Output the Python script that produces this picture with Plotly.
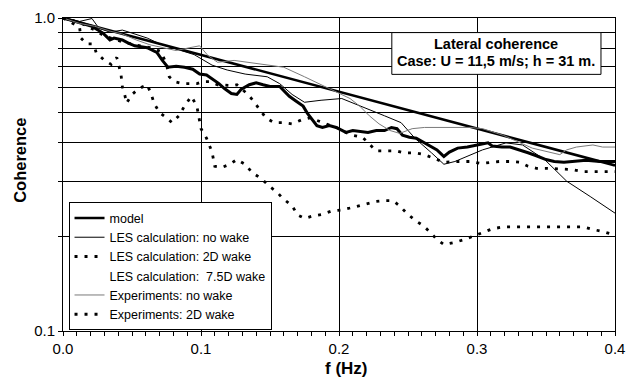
import plotly.graph_objects as go

# ---------------- data ----------------
model_f = [0.0, 0.1, 0.2, 0.3, 0.4]
model_c = [1.0, 0.762, 0.581, 0.443, 0.338]

les_nowake_f = [0.0, 0.012, 0.021, 0.026, 0.034, 0.043, 0.050, 0.061, 0.070, 0.079, 0.090, 0.095,
                0.108, 0.119, 0.132, 0.148, 0.157, 0.166, 0.175, 0.187, 0.202, 0.216, 0.233, 0.245,
                0.255, 0.267, 0.276, 0.284, 0.293, 0.304, 0.321, 0.333, 0.349, 0.365, 0.382, 0.400]
les_nowake_c = [1.0, 0.975, 0.996, 0.928, 0.901, 0.915, 0.895, 0.863, 0.827, 0.804, 0.776, 0.764,
                0.707, 0.682, 0.662, 0.649, 0.617, 0.570, 0.538, 0.546, 0.553, 0.523, 0.487, 0.463,
                0.413, 0.371, 0.341, 0.348, 0.361, 0.379, 0.399, 0.393, 0.353, 0.301, 0.269, 0.238]

les_2d_f = [0.0, 0.012, 0.023, 0.030, 0.041, 0.052, 0.063, 0.071, 0.075, 0.077, 0.081, 0.087, 0.092,
            0.097, 0.101, 0.106, 0.112, 0.123, 0.126, 0.134, 0.137, 0.142, 0.147, 0.153, 0.160, 0.166,
            0.173, 0.179, 0.190, 0.200, 0.205, 0.210, 0.217, 0.222, 0.227, 0.234, 0.242, 0.247, 0.255,
            0.262, 0.269, 0.276, 0.286, 0.295, 0.303, 0.309, 0.316, 0.324, 0.331, 0.337, 0.343, 0.350,
            0.369, 0.377, 0.384, 0.392, 0.400]
les_2d_c = [1.0, 0.968, 0.915, 0.876, 0.845, 0.821, 0.804, 0.781, 0.711, 0.649, 0.626, 0.617, 0.617,
            0.617, 0.626, 0.626, 0.612, 0.608, 0.612, 0.570, 0.550, 0.516, 0.480, 0.463, 0.463, 0.459,
            0.473, 0.480, 0.459, 0.443, 0.431, 0.422, 0.416, 0.396, 0.376, 0.376, 0.376, 0.371, 0.371,
            0.366, 0.356, 0.346, 0.348, 0.348, 0.343, 0.346, 0.348, 0.348, 0.346, 0.336, 0.331, 0.331,
            0.328, 0.323, 0.323, 0.323, 0.323]

les_75d_f = [0.0, 0.012, 0.021, 0.029, 0.034, 0.037, 0.043, 0.047, 0.052, 0.061, 0.068, 0.072, 0.076,
             0.082, 0.088, 0.094, 0.099, 0.104, 0.108, 0.113, 0.117, 0.122, 0.126, 0.129, 0.135, 0.140,
             0.145, 0.150, 0.157, 0.161, 0.164, 0.169, 0.174, 0.177, 0.180, 0.184, 0.188, 0.193, 0.198,
             0.203, 0.205, 0.210, 0.215, 0.221, 0.227, 0.233, 0.238, 0.242, 0.246, 0.251, 0.256, 0.261,
             0.266, 0.271, 0.274, 0.276, 0.280, 0.286, 0.293, 0.300, 0.308, 0.311, 0.318, 0.324, 0.331,
             0.337, 0.343, 0.350, 0.356, 0.363, 0.369, 0.379, 0.389, 0.400]
les_75d_c = [1.0, 0.968, 0.940, 0.895, 0.851, 0.863, 0.851, 0.833, 0.815, 0.804, 0.776, 0.732, 0.696,
             0.701, 0.696, 0.686, 0.662, 0.658, 0.639, 0.617, 0.595, 0.574, 0.570, 0.591, 0.612, 0.621,
             0.612, 0.604, 0.604, 0.582, 0.562, 0.542, 0.523, 0.497, 0.476, 0.453, 0.447, 0.453, 0.447,
             0.437, 0.431, 0.437, 0.434, 0.431, 0.437, 0.437, 0.447, 0.443, 0.422, 0.416, 0.413, 0.401,
             0.390, 0.379, 0.368, 0.361, 0.373, 0.384, 0.387, 0.393, 0.399, 0.390, 0.387, 0.387, 0.379,
             0.371, 0.363, 0.353, 0.348, 0.346, 0.348, 0.351, 0.348, 0.348]

exp_nowake_f = [0.0, 0.012, 0.023, 0.034, 0.043, 0.053, 0.063, 0.072, 0.082, 0.092, 0.099, 0.105,
                0.112, 0.124, 0.144, 0.160, 0.175, 0.187, 0.200, 0.208, 0.215, 0.222, 0.229, 0.237,
                0.244, 0.253, 0.262, 0.279, 0.295, 0.304, 0.319, 0.340, 0.353, 0.360, 0.365, 0.372,
                0.384, 0.391, 0.400]
exp_nowake_c = [1.0, 0.961, 0.941, 0.908, 0.889, 0.851, 0.821, 0.804, 0.787, 0.804, 0.815, 0.759,
                0.722, 0.732, 0.711, 0.696, 0.649, 0.612, 0.574, 0.553, 0.523, 0.487, 0.459, 0.437,
                0.428, 0.443, 0.447, 0.447, 0.447, 0.443, 0.422, 0.384, 0.371, 0.366, 0.379, 0.387,
                0.393, 0.387, 0.387]

exp_2d_f = [0.0, 0.012, 0.013, 0.017, 0.021, 0.023, 0.024, 0.030, 0.035, 0.039, 0.042, 0.043, 0.045,
            0.046, 0.050, 0.055, 0.061, 0.064, 0.066, 0.070, 0.075, 0.079, 0.084, 0.088, 0.093, 0.095,
            0.097, 0.100, 0.104, 0.108, 0.110, 0.115, 0.121, 0.126, 0.132, 0.137, 0.144, 0.150, 0.155,
            0.159, 0.166, 0.170, 0.175, 0.181, 0.188, 0.195, 0.203, 0.211, 0.218, 0.226, 0.233, 0.239,
            0.244, 0.249, 0.255, 0.261, 0.266, 0.271, 0.276, 0.284, 0.291, 0.298, 0.305, 0.311, 0.319,
            0.333, 0.355, 0.377, 0.384, 0.391, 0.399]
exp_2d_c = [1.0, 0.934, 0.863, 0.827, 0.827, 0.804, 0.776, 0.732, 0.711, 0.748, 0.662, 0.604, 0.562,
            0.534, 0.570, 0.595, 0.612, 0.570, 0.534, 0.498, 0.480, 0.463, 0.487, 0.523, 0.562, 0.542,
            0.523, 0.443, 0.413, 0.373, 0.336, 0.333, 0.341, 0.353, 0.341, 0.321, 0.306, 0.289, 0.278,
            0.266, 0.251, 0.235, 0.229, 0.233, 0.236, 0.242, 0.244, 0.249, 0.254, 0.259, 0.261, 0.261,
            0.251, 0.238, 0.226, 0.217, 0.207, 0.196, 0.189, 0.192, 0.196, 0.202, 0.207, 0.212, 0.215,
            0.215, 0.215, 0.215, 0.211, 0.208, 0.203]

x_tickvals = [0.0, 0.1, 0.2, 0.3, 0.4]
x_ticktext = ["0.0", "0.1", "0.2", "0.3", "0.4"]
y_tickvals = [0.1, 0.2, 0.3, 0.4, 0.5, 0.6, 0.7, 0.8, 0.9, 1.0]
y_ticktext = ["0.1", "", "", "", "", "", "", "", "", "1.0"]

FONT = "Liberation Sans, Arial, Helvetica, sans-serif"
DOT = "3px,7px"

fig = go.Figure()
fig.add_trace(go.Scatter(x=model_f, y=model_c, mode="lines", name="model",
                         line=dict(color="black", width=2.6)))
fig.add_trace(go.Scatter(x=les_nowake_f, y=les_nowake_c, mode="lines", name="LES calculation: no wake",
                         line=dict(color="black", width=1)))
fig.add_trace(go.Scatter(x=les_2d_f, y=les_2d_c, mode="lines", name="LES calculation: 2D wake",
                         line=dict(color="black", width=2.8, dash=DOT)))
# 7.5D wake curve (thick jagged line) - its legend sample is blank in the reference
fig.add_trace(go.Scatter(x=les_75d_f, y=les_75d_c, mode="lines", name="LES calculation:  7.5D wake",
                         line=dict(color="black", width=3), showlegend=False))
fig.add_trace(go.Scatter(x=[None], y=[None], mode="lines", name="LES calculation:  7.5D wake",
                         line=dict(color="rgba(0,0,0,0)", width=1)))
fig.add_trace(go.Scatter(x=exp_nowake_f, y=exp_nowake_c, mode="lines", name="Experiments: no wake",
                         line=dict(color="#7a7a7a", width=1)))
fig.add_trace(go.Scatter(x=exp_2d_f, y=exp_2d_c, mode="lines", name="Experiments: 2D wake",
                         line=dict(color="black", width=2.8, dash=DOT)))

fig.update_layout(
    width=644, height=385,
    margin=dict(l=63, r=29, t=9, b=54, pad=0),
    paper_bgcolor="white", plot_bgcolor="white",
    font=dict(family=FONT, color="black", size=15),
    legend=dict(x=0.01, y=0.411, xanchor="left", yanchor="top",
                bgcolor="white", bordercolor="black", borderwidth=1,
                font=dict(size=12.5, family=FONT), tracegroupgap=0),
    shapes=[dict(type="rect", xref="paper", yref="paper",
                 x0=0.5957, x1=0.9746, y0=0.8199, y1=0.9534,
                 line=dict(color="black", width=1), fillcolor="white", layer="above")],
    annotations=[
        dict(text="<b>Lateral coherence</b>", xref="paper", yref="paper", x=0.785, y=0.916,
             xanchor="center", yanchor="middle", showarrow=False,
             font=dict(size=14.5, family=FONT)),
        dict(text="<b>Case: U = 11,5 m/s; h = 31 m.</b>", xref="paper", yref="paper",
             x=0.785, y=0.863, xanchor="center", yanchor="middle", showarrow=False,
             font=dict(size=14.5, family=FONT)),
        dict(text="<b>Coherence</b>", xref="paper", yref="paper", x=-0.0771, y=0.545,
             xanchor="center", yanchor="middle", textangle=-90, showarrow=False,
             font=dict(size=16.5, family=FONT)),
        dict(text="<b>f (Hz)</b>", xref="paper", yref="paper", x=0.513, y=-0.121,
             xanchor="center", yanchor="middle", showarrow=False,
             font=dict(size=17, family=FONT)),
    ],
)

fig.update_xaxes(
    range=[0, 0.4], tickmode="array", tickvals=x_tickvals, ticktext=x_ticktext,
    showgrid=True, gridcolor="black", gridwidth=1,
    showline=True, linecolor="black", linewidth=1, mirror=True,
    ticks="outside", ticklen=4, tickcolor="black",
    minor=dict(dtick=0.01, tick0=0, ticks="outside", ticklen=4, tickcolor="black", showgrid=False),
    zeroline=False,
)
fig.update_yaxes(
    type="log", range=[-1, 0], tickmode="array", tickvals=y_tickvals, ticktext=y_ticktext,
    showgrid=True, gridcolor="black", gridwidth=1,
    showline=True, linecolor="black", linewidth=1, mirror=True,
    ticks="outside", ticklen=4, tickcolor="black",
    zeroline=False,
)

fig.write_html("out.html")
